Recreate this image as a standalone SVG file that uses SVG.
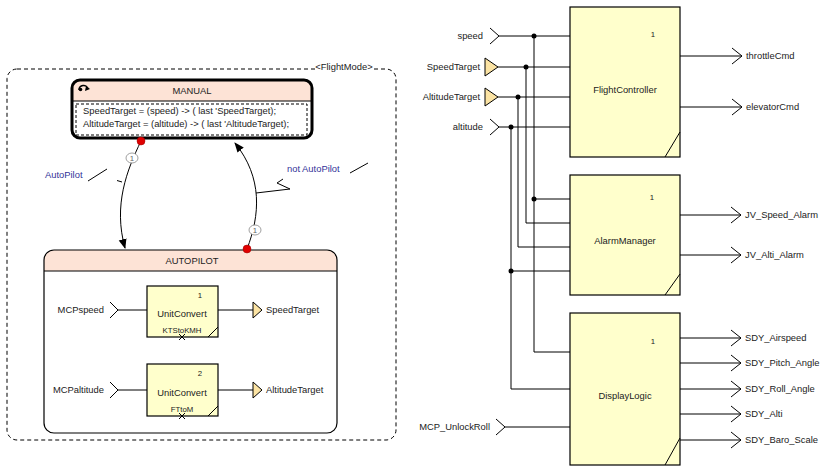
<svg xmlns="http://www.w3.org/2000/svg" width="828" height="473" viewBox="0 0 828 473">
<defs>
<style>
text{font-family:"Liberation Sans",Arial,sans-serif;font-size:9.4px;fill:#222}
.c{text-anchor:middle}
.r{text-anchor:end}
.blue{fill:#333399}
.small{font-size:7.8px}
.blk{fill:#ffffcc;stroke:#000;stroke-width:1.2}
.ln{fill:none;stroke:#000;stroke-width:1}
.tri{fill:#fbe3a3;stroke:#000;stroke-width:1}
.dot{fill:#000}
.red{fill:#e00000;stroke:#900;stroke-width:0.5}
.lab{fill:#fff;stroke:#888;stroke-width:0.8}
.gr{fill:#666}
</style>
<marker id="ah" markerWidth="10" markerHeight="10" refX="9" refY="5" orient="auto" markerUnits="userSpaceOnUse">
<path d="M0,1 L10,5 L0,9 Z" fill="#000"/>
</marker>
</defs>
<rect width="828" height="473" fill="#fff"/>

<g id="FlightMode">
<rect x="7" y="69" width="389" height="371" rx="10" fill="none" stroke="#000" stroke-width="1" stroke-dasharray="4,3"/>
<rect x="315" y="62" width="58" height="12" fill="#fff"/>
<text x="344" y="70" class="c">&lt;FlightMode&gt;</text>
</g>

<g id="MANUAL">
<path d="M72,101 V88 a8,8 0 0 1 8,-8 H304 a8,8 0 0 1 8,8 V101 Z" fill="#fde3d6"/>
<rect x="72" y="80" width="240" height="58" rx="8" fill="none" stroke="#000" stroke-width="3"/>
<line x1="72" y1="101" x2="312" y2="101" stroke="#000" stroke-width="1"/>
<rect x="76" y="104" width="231" height="31" fill="none" stroke="#000" stroke-width="1" stroke-dasharray="3,2"/>
<path d="M79,90 a4.5,4 0 0 1 9,-1" fill="none" stroke="#000" stroke-width="1.5"/>
<path d="M86,86 L90,89 L85,91 Z" fill="#000"/>
<circle cx="80.5" cy="89.5" r="1.8" fill="#000"/>
<text x="192" y="94" class="c">MANUAL</text>
<text x="83" y="114">SpeedTarget = (speed) -&gt; ( last 'SpeedTarget);</text>
<text x="83" y="127">AltitudeTarget = (altitude) -&gt; ( last 'AltitudeTarget);</text>
</g>

<g id="AUTOPILOT">
<path d="M44,271 V260 a10,10 0 0 1 10,-10 H327 a10,10 0 0 1 10,10 V271 Z" fill="#fde3d6"/>
<rect x="44" y="250" width="293" height="183" rx="10" fill="none" stroke="#000" stroke-width="1.2"/>
<line x1="44" y1="271" x2="337" y2="271" stroke="#000" stroke-width="1"/>
<text x="192" y="264" class="c">AUTOPILOT</text>

<g id="UnitConvert1">
<rect x="147" y="286" width="71" height="51" class="blk"/>
<line x1="208" y1="337" x2="218" y2="327" class="ln"/>
<text x="200" y="298" class="c small">1</text>
<text x="182" y="317" class="c">UnitConvert</text>
<text x="182" y="333" class="c small">KTStoKMH</text>
<path d="M179,334 L185,340 M185,334 L179,340" class="ln"/>
</g>
<g id="MCPspeed">
<text x="104" y="313" class="r">MCPspeed</text>
<path d="M110,302 L118,310 L110,318" class="ln"/>
</g>
<g id="SpeedTargetOut">
<path d="M253,302 L262,310 L253,318 Z" class="tri"/>
<text x="266" y="313">SpeedTarget</text>
</g>

<g id="UnitConvert2">
<rect x="147" y="364" width="71" height="52" class="blk"/>
<line x1="208" y1="416" x2="218" y2="406" class="ln"/>
<text x="200" y="376" class="c small">2</text>
<text x="182" y="396" class="c">UnitConvert</text>
<text x="182" y="412" class="c small">FTtoM</text>
<path d="M179,413 L185,419 M185,413 L179,419" class="ln"/>
</g>
<g id="MCPaltitude">
<text x="104" y="393" class="r">MCPaltitude</text>
<path d="M110,382 L118,390 L110,398" class="ln"/>
</g>
<g id="AltitudeTargetOut">
<path d="M253,382 L262,390 L253,398 Z" class="tri"/>
<text x="266" y="393">AltitudeTarget</text>
</g>
</g>

<g id="transitions">
<path d="M141,141 C127,170 113,205 125,248" class="ln" marker-end="url(#ah)"/>
<path d="M247,249 C260,215 263,178 235,143" class="ln" marker-end="url(#ah)"/>
<circle cx="141" cy="141" r="4" class="red"/>
<circle cx="247" cy="249" r="4" class="red"/>
<ellipse cx="132" cy="158" rx="6" ry="5" class="lab"/>
<text x="132" y="161" class="c small gr">1</text>
<ellipse cx="255" cy="230" rx="6" ry="5" class="lab"/>
<text x="255" y="233" class="c small gr">1</text>
<path d="M117,180.5 L122,182" class="ln"/>
<text x="45" y="178" class="blue">AutoPilot</text>
<line x1="88" y1="181" x2="107" y2="169" class="ln"/>
<path d="M256,193 L290,189 L277,183 L283,179" class="ln"/>
<text x="287" y="172" class="blue">not AutoPilot</text>
<line x1="350" y1="173" x2="368" y2="163" class="ln"/>
</g>

<g id="FlightController">
<rect x="570" y="7" width="110" height="150" class="blk"/>
<line x1="665" y1="157" x2="680" y2="132" class="ln"/>
<text x="653" y="37" class="c small">1</text>
<text x="625" y="93" class="c">FlightController</text>
</g>
<g id="AlarmManager">
<rect x="570" y="175" width="110" height="120" class="blk"/>
<line x1="665" y1="295" x2="680" y2="274" class="ln"/>
<text x="652" y="200" class="c small">1</text>
<text x="625" y="244" class="c">AlarmManager</text>
</g>
<g id="DisplayLogic">
<rect x="570" y="313" width="110" height="152" class="blk"/>
<line x1="665" y1="465" x2="680" y2="438" class="ln"/>
<text x="653" y="344" class="c small">1</text>
<text x="625" y="399" class="c">DisplayLogic</text>
</g>

<g id="inputs">
<g id="speed"><text x="483" y="39" class="r">speed</text><path d="M490,28 L499,36 L490,44" class="ln"/></g>
<g id="SpeedTarget"><text x="480" y="70" class="r">SpeedTarget</text><path d="M485,58 L498,67 L485,76 Z" class="tri"/></g>
<g id="AltitudeTarget"><text x="480" y="100" class="r">AltitudeTarget</text><path d="M485,88 L498,97 L485,106 Z" class="tri"/></g>
<g id="altitude"><text x="483" y="130" class="r">altitude</text><path d="M490,119 L499,127 L490,135" class="ln"/></g>
<g id="MCP_UnlockRoll"><text x="490" y="430" class="r">MCP_UnlockRoll</text><path d="M496,419 L505,427 L496,435" class="ln"/></g>
</g>

<g id="outputs">
<g id="throttleCmd"><path d="M732,48 L742,56 L732,64" class="ln"/><text x="746" y="59">throttleCmd</text></g>
<g id="elevatorCmd"><path d="M732,99 L742,107 L732,115" class="ln"/><text x="746" y="110">elevatorCmd</text></g>
<g id="JV_Speed_Alarm"><path d="M731,207 L741,215 L731,223" class="ln"/><text x="745" y="218">JV_Speed_Alarm</text></g>
<g id="JV_Alti_Alarm"><path d="M731,247 L741,255 L731,263" class="ln"/><text x="745" y="258">JV_Alti_Alarm</text></g>
<g id="SDY_Airspeed"><path d="M731,330 L741,338 L731,346" class="ln"/><text x="745" y="341">SDY_Airspeed</text></g>
<g id="SDY_Pitch_Angle"><path d="M731,355 L741,363 L731,371" class="ln"/><text x="745" y="366">SDY_Pitch_Angle</text></g>
<g id="SDY_Roll_Angle"><path d="M731,381 L741,389 L731,397" class="ln"/><text x="745" y="392">SDY_Roll_Angle</text></g>
<g id="SDY_Alti"><path d="M731,406 L741,414 L731,422" class="ln"/><text x="745" y="417">SDY_Alti</text></g>
<g id="SDY_Baro_Scale"><path d="M731,432 L741,440 L731,448" class="ln"/><text x="745" y="443">SDY_Baro_Scale</text></g>
</g>

<g id="connectors">
<line x1="118" y1="310" x2="147" y2="310" class="ln"/>
<line x1="218" y1="310" x2="253" y2="310" class="ln"/>
<line x1="118" y1="390" x2="147" y2="390" class="ln"/>
<line x1="218" y1="390" x2="253" y2="390" class="ln"/>

<line x1="499" y1="36" x2="570" y2="36" class="ln"/>
<line x1="498" y1="67" x2="570" y2="67" class="ln"/>
<line x1="498" y1="97" x2="570" y2="97" class="ln"/>
<line x1="499" y1="127" x2="570" y2="127" class="ln"/>
<path d="M534,36 V352 H570" class="ln"/>
<path d="M526,67 V223 H570" class="ln"/>
<path d="M518,97 V247 H570" class="ln"/>
<path d="M511,127 V389 H570" class="ln"/>
<line x1="534" y1="199" x2="570" y2="199" class="ln"/>
<line x1="511" y1="271" x2="570" y2="271" class="ln"/>
<line x1="505" y1="427" x2="570" y2="427" class="ln"/>
<circle cx="534" cy="36" r="2.5" class="dot"/>
<circle cx="526" cy="67" r="2.5" class="dot"/>
<circle cx="518" cy="97" r="2.5" class="dot"/>
<circle cx="511" cy="127" r="2.5" class="dot"/>
<circle cx="534" cy="199" r="2.5" class="dot"/>
<circle cx="511" cy="271" r="2.5" class="dot"/>

<line x1="680" y1="56" x2="742" y2="56" class="ln"/>
<line x1="680" y1="107" x2="742" y2="107" class="ln"/>
<line x1="680" y1="215" x2="741" y2="215" class="ln"/>
<line x1="680" y1="255" x2="741" y2="255" class="ln"/>
<line x1="680" y1="338" x2="741" y2="338" class="ln"/>
<line x1="680" y1="363" x2="741" y2="363" class="ln"/>
<line x1="680" y1="389" x2="741" y2="389" class="ln"/>
<line x1="680" y1="414" x2="741" y2="414" class="ln"/>
<line x1="680" y1="440" x2="741" y2="440" class="ln"/>
</g>
</svg>
